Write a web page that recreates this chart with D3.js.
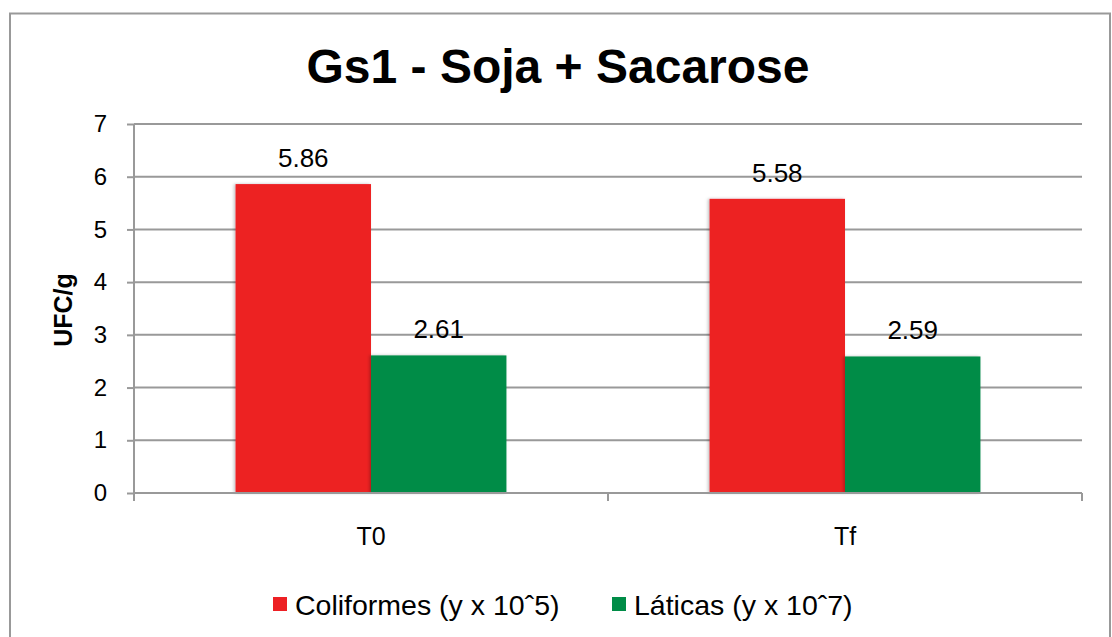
<!DOCTYPE html>
<html><head><meta charset="utf-8">
<script src="https://cdn.jsdelivr.net/npm/d3@7"></script>
<style>body{margin:0;background:#fff}svg{display:block}text{font-family:"Liberation Sans",Arial,sans-serif}</style>
</head><body>
<svg id="c" width="1112" height="637"></svg>
<script>
const categories = ["T0", "Tf"];
const seriesNames = ["Coliformes (y x 10ˆ5)", "Láticas (y x 10ˆ7)"];
const coliformes = [5.86, 5.58];
const laticas = [2.61, 2.59];
const yTicks = [0, 1, 2, 3, 4, 5, 6, 7];
const colors = ["#ED2024", "#008C47"];
const title = "Gs1 - Soja + Sacarose";
const yLabel = "UFC/g";

const svg = d3.select("#c");
svg.append("rect").attr("x", 10).attr("y", 13.5).attr("width", 1100).attr("height", 640)
  .attr("fill", "#fff").attr("stroke", "#999").attr("stroke-width", 2);

const L = 134, R = 1082, T = 124, B = 493;
const x = d3.scaleBand().domain(categories).range([L, R]).paddingInner(0).paddingOuter(0);
const y = d3.scaleLinear().domain([0, 7]).range([B, T]);
const groupW = x.bandwidth() / 3.5 * 2;
const x1 = d3.scaleBand().domain([0, 1]).range([0, groupW]);

// gridlines
svg.append("g").selectAll("line").data(yTicks.filter(d => d > 0)).join("line")
  .attr("x1", L).attr("x2", R).attr("y1", d => y(d)).attr("y2", d => y(d))
  .attr("stroke", "#999").attr("stroke-width", 2);

// bars
const data = [coliformes, laticas];
const defs = svg.append("defs");
const f = defs.append("filter").attr("id", "sh").attr("x", "-10%").attr("y", "-10%").attr("width", "130%").attr("height", "130%");
f.append("feDropShadow").attr("dx", -1.5).attr("dy", 0).attr("stdDeviation", 1.5).attr("flood-color", "#000").attr("flood-opacity", 0.25);

data.forEach((vals, si) => {
  const g = svg.append("g");
  g.selectAll("rect").data(vals).join("rect")
    .attr("x", (d, i) => x(categories[i]) + (x.bandwidth() - groupW) / 2 + x1(si))
    .attr("y", d => y(d)).attr("width", x1.bandwidth()).attr("height", d => B - y(d))
    .attr("fill", colors[si]).attr("filter", "url(#sh)");
  g.selectAll("text").data(vals).join("text")
    .attr("x", (d, i) => x(categories[i]) + (x.bandwidth() - groupW) / 2 + x1(si) + x1.bandwidth() / 2)
    .attr("y", d => y(d) - 17).attr("text-anchor", "middle").attr("font-size", 26).attr("fill", "#000")
    .text(d => d.toFixed(2));
});

// y axis
const ya = svg.append("g").attr("transform", `translate(${L},0)`)
  .call(d3.axisLeft(y).tickValues(yTicks).tickSize(7).tickPadding(20).tickFormat(d3.format("d")));
ya.select(".domain").attr("stroke", "#999").attr("stroke-width", 2).attr("d", `M0,${T}V${B + 8}`);
ya.selectAll(".tick line").attr("stroke", "#999").attr("stroke-width", 2);
ya.selectAll(".tick text").attr("font-size", 24).attr("fill", "#000").attr("font-family", "Liberation Sans, Arial, sans-serif");

// x axis
const xa = svg.append("g").attr("transform", `translate(0,${B})`)
  .call(d3.axisBottom(x).tickSize(0).tickPadding(34));
xa.select(".domain").attr("stroke", "#999").attr("stroke-width", 2).attr("d", `M${L},0H${R}`);
xa.selectAll(".tick text").attr("font-size", 25).attr("fill", "#000").attr("font-family", "Liberation Sans, Arial, sans-serif");
xa.selectAll("line.sep").data([L, (L + R) / 2, R]).join("line").attr("class", "sep")
  .attr("x1", d => d).attr("x2", d => d).attr("y1", 0).attr("y2", 8)
  .attr("stroke", "#999").attr("stroke-width", 2);

// title
svg.append("text").attr("x", 558).attr("y", 83).attr("text-anchor", "middle")
  .attr("font-size", 48).attr("font-weight", "bold").text(title);

// y label
svg.append("text").attr("transform", `translate(72,310) rotate(-90)`).attr("text-anchor", "middle")
  .attr("font-size", 25).attr("font-weight", "bold").text(yLabel);

// legend
const lg = svg.append("g");
const lx = [273, 612];
seriesNames.forEach((n, i) => {
  lg.append("rect").attr("x", lx[i]).attr("y", 597).attr("width", 14).attr("height", 14).attr("fill", colors[i]);
  lg.append("text").attr("x", lx[i] + 22).attr("y", 615).attr("font-size", 28.5).text(n);
});
</script>
</body></html>
